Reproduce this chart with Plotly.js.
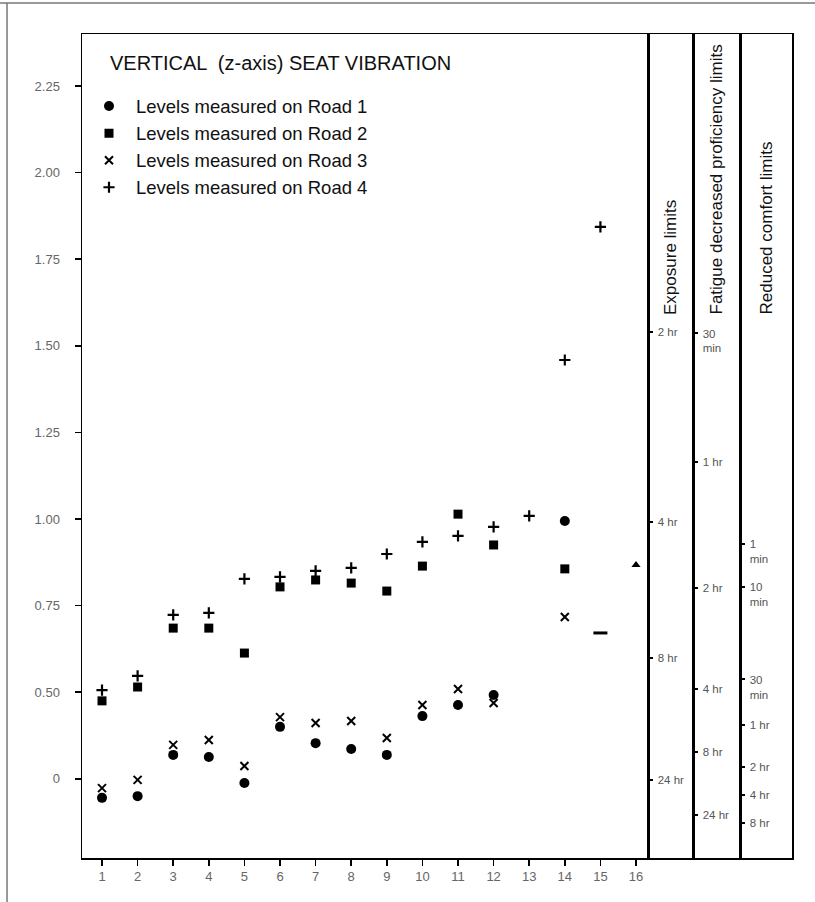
<!DOCTYPE html>
<html>
<head>
<meta charset="utf-8">
<script src="https://cdn.plot.ly/plotly-3.0.1.min.js"></script>
<style>html,body{margin:0;padding:0;background:#fff;}#chart{width:815px;height:902px;}</style>
</head>
<body>
<div id="chart"></div>
<script>
// Categories (x positions 1..16)
const xTicks = [1,2,3,4,5,6,7,8,9,10,11,12,13,14,15,16];
const xTickText = ["1","2","3","4","5","6","7","8","9","10","11","12","13","14","15","16"];

// Road 1 (circles)
const road1X = [1,2,3,4,5,6,7,8,9,10,11,12,14];
const road1Y = [0.195,0.200,0.319,0.313,0.238,0.400,0.353,0.336,0.319,0.431,0.463,0.492,0.994];
// Road 2 (squares)
const road2X = [1,2,3,4,5,6,7,8,9,10,11,12,14];
const road2Y = [0.475,0.515,0.685,0.685,0.613,0.804,0.824,0.815,0.792,0.864,1.014,0.925,0.856];
// Road 3 (x)
const road3X = [1,2,3,4,5,6,7,8,9,10,11,12,14];
const road3Y = [0.223,0.247,0.348,0.362,0.287,0.428,0.411,0.417,0.368,0.463,0.509,0.469,0.717];
// Road 4 (+)
const road4X = [1,2,3,4,5,6,7,8,9,10,11,12,13,14,15];
const road4Y = [0.506,0.547,0.723,0.729,0.827,0.833,0.850,0.859,0.899,0.934,0.951,0.977,1.009,1.459,1.843];
// Unlabelled extra marks
const dashX = [15], dashY = [0.671];
const triX = [16], triY = [0.867];

// Y axis ticks
const yTickVals = [0.25,0.50,0.75,1.00,1.25,1.50,1.75,2.00,2.25];
const yTickText = ["0","0.50","0.75","1.00","1.25","1.50","1.75","2.00","2.25"];

// Limit panels
const exposureVals = [1.540,0.990,0.600,0.247];
const exposureText = ["2 hr","4 hr","8 hr","24 hr"];
const fatigueVals = [1.165,0.800,0.510,0.327,0.146];
const fatigueText = ["1 hr","2 hr","4 hr","8 hr","24 hr"];
const fatigueMinVals = [1.537];
const fatigueMinText = ["30<br>min"];
const comfortVals = [0.405,0.284,0.203,0.122];
const comfortText = ["1 hr","2 hr","4 hr","8 hr"];
const comfortMinVals = [0.928,0.804,0.538];
const comfortMinText = ["1<br>min","10<br>min","30<br>min"];

const FONT = "Liberation Sans, Arial, Helvetica, sans-serif";
const yRange = [0.0214, 2.400];
const xRange = [0.438, 16.337];

function roadTrace(x, y, name, symbol, size, lw) {
  return {
    type: "scatter", mode: "markers", x: x, y: y, name: name, xaxis: "x", yaxis: "y",
    marker: {symbol: symbol, size: size, color: "#000", line: {color: "#000", width: lw}}
  };
}
function empty(xa, ya) {
  return {type:"scatter", mode:"markers", x:[], y:[], showlegend:false, xaxis:xa, yaxis:ya};
}

const traces = [
  roadTrace(road1X, road1Y, "Levels measured on Road 1", "circle", 10, 0),
  roadTrace(road2X, road2Y, "Levels measured on Road 2", "square", 9, 0),
  roadTrace(road3X, road3Y, "Levels measured on Road 3", "x-thin", 8, 2),
  roadTrace(road4X, road4Y, "Levels measured on Road 4", "cross-thin", 8, 2.2),
  {type:"scatter", mode:"markers", x: dashX, y: dashY, showlegend:false, xaxis:"x", yaxis:"y",
   marker:{symbol:"line-ew", size:10, color:"#000", line:{color:"#000", width:3}}},
  {type:"scatter", mode:"markers", x: triX, y: triY, showlegend:false, xaxis:"x", yaxis:"y",
   marker:{symbol:"triangle-up", size:8, color:"#000"}},
  empty("x2","y2"), empty("x3","y3"), empty("x4","y4"), empty("x3","y5"), empty("x4","y6")
];

const tickFont = {family: FONT, size: 13, color: "#666"};
const panelTickFont = {family: FONT, size: 11.5, color: "#555"};

function panelX(domain, anchor) {
  return {domain: domain, anchor: anchor, range: [0,1], showticklabels:false, ticks:"", showgrid:false, zeroline:false,
          showline:true, mirror:true, linecolor:"#000", linewidth:1.5};
}
function panelY(anchor, vals, text) {
  return {anchor: anchor, range: yRange, tickmode:"array", tickvals: vals, ticktext: text,
          ticks:"inside", ticklen:5, tickwidth:2, tickcolor:"#000", ticklabelposition:"inside",
          ticklabelstandoff: 4, tickfont: panelTickFont, showgrid:false, zeroline:false,
          showline:true, mirror:true, linecolor:"#000", linewidth:1.5};
}
function panelYMin(anchor, over, vals, text) {
  const a = panelY(anchor, vals, text);
  a.overlaying = over;
  a.side = "left";
  a.ticklabelshift = 8;
  return a;
}

const d1 = [0, 0.7972], d2 = [0.7972, 0.8606], d3 = [0.8606, 0.9268], d4 = [0.9268, 1.0];

const layout = {
  width: 815, height: 902,
  margin: {l: 82, r: 23, t: 34, b: 44},
  paper_bgcolor: "#fff", plot_bgcolor: "#fff",
  font: {family: FONT, color: "#000"},
  showlegend: true,
  legend: {x: 0, y: 0.935, xanchor: "left", yanchor: "top", bgcolor: "rgba(0,0,0,0)", itemwidth: 44,
           font: {family: FONT, size: 18.5, color: "#111"}, tracegroupgap: 0},
  xaxis: {domain: d1, range: xRange, tickmode: "array", tickvals: xTicks, ticktext: xTickText,
          ticks: "outside", ticklen: 6, tickwidth: 1.5, tickcolor: "#000", tickfont: tickFont,
          showgrid: false, zeroline: false, showline: true, mirror: true, linecolor: "#000", linewidth: 1.5},
  yaxis: {range: yRange, tickmode: "array", tickvals: yTickVals, ticktext: yTickText,
          ticks: "outside", ticklen: 6, tickwidth: 1.5, tickcolor: "#000", tickfont: tickFont,
          ticklabelstandoff: 12,
          showgrid: false, zeroline: false, showline: true, mirror: true, linecolor: "#000", linewidth: 1.5},
  xaxis2: panelX(d2, "y2"),
  xaxis3: panelX(d3, "y3"),
  xaxis4: panelX(d4, "y4"),
  yaxis2: panelY("x2", exposureVals, exposureText),
  yaxis3: panelY("x3", fatigueVals, fatigueText),
  yaxis4: panelY("x4", comfortVals, comfortText),
  yaxis5: panelYMin("x3", "y3", fatigueMinVals, fatigueMinText),
  yaxis6: panelYMin("x4", "y4", comfortMinVals, comfortMinText),
  annotations: [
    {text: "VERTICAL  (z-axis) SEAT VIBRATION", xref: "paper", yref: "paper", x: 0.037, y: 0.965,
     xanchor: "left", yanchor: "middle", showarrow: false, font: {family: FONT, size: 20, color: "#111"}},
    {text: "Exposure limits", xref: "paper", yref: "paper", x: (d2[0]+d2[1])/2, y: 0.6566,
     xanchor: "center", yanchor: "bottom", textangle: -90, showarrow: false, font: {family: FONT, size: 17, color: "#111"}},
    {text: "Fatigue decreased proficiency limits", xref: "paper", yref: "paper", x: (d3[0]+d3[1])/2, y: 0.6566,
     xanchor: "center", yanchor: "bottom", textangle: -90, showarrow: false, font: {family: FONT, size: 17, color: "#111"}},
    {text: "Reduced comfort limits", xref: "paper", yref: "paper", x: (d4[0]+d4[1])/2, y: 0.6566,
     xanchor: "center", yanchor: "bottom", textangle: -90, showarrow: false, font: {family: FONT, size: 17, color: "#111"}}
  ],
  shapes: [
    {type: "line", xref: "paper", yref: "paper", x0: -0.12, x1: 1.05, y0: 1.0376, y1: 1.0376, line: {color: "#777", width: 1.5}},
    {type: "line", xref: "paper", yref: "paper", x0: -0.1056, x1: -0.1056, y0: 1.0376, y1: -0.06, line: {color: "#777", width: 1.5}}
  ]
};

Plotly.newPlot("chart", traces, layout, {displayModeBar: false, staticPlot: true});
</script>
</body>
</html>
